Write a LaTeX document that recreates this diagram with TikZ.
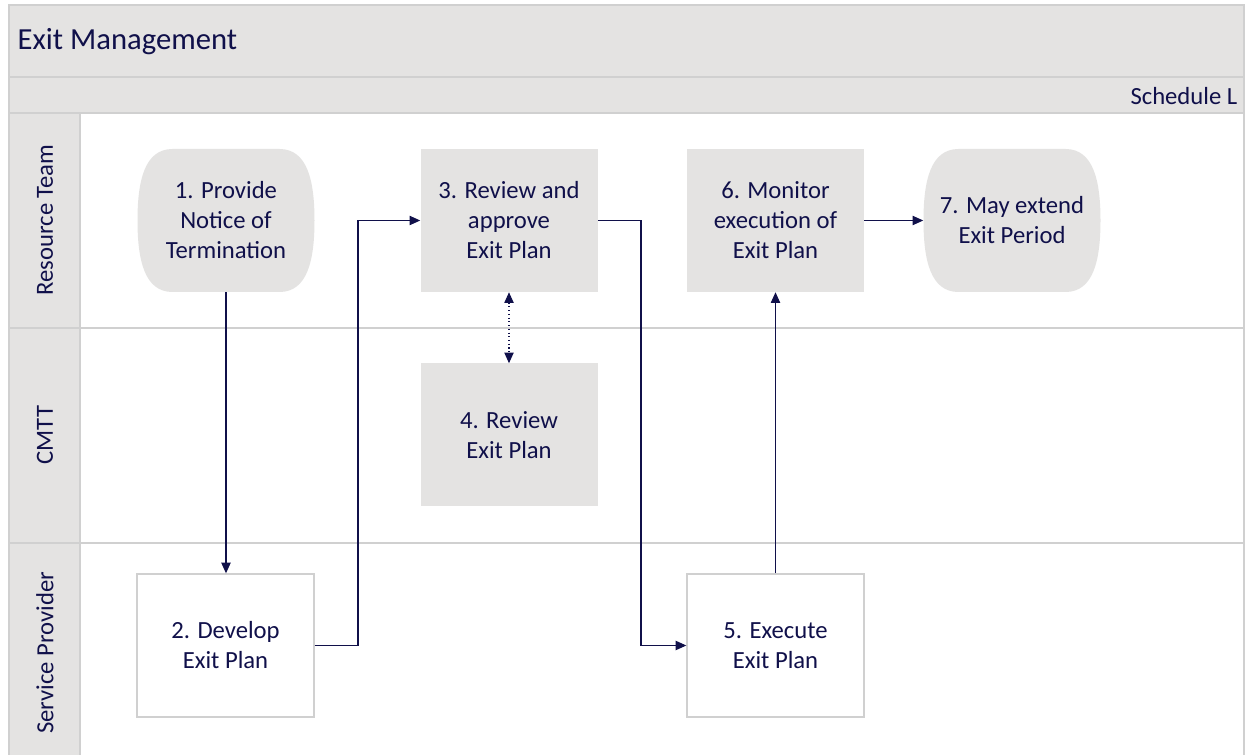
\documentclass[tikz,border=0pt]{standalone}
\usepackage{fontspec}
\setmainfont{Carlito}
\usetikzlibrary{arrows.meta,calc}
\definecolor{ink}{HTML}{10104A}
\definecolor{band}{HTML}{E4E3E2}
\definecolor{rule}{HTML}{D0D0D0}
% bulged terminator outline around a centre coordinate
\newcommand\termshape[1]{%
  \fill[band] ($(#1)+(-88.5,0)$)
    .. controls ($(#1)+(-88.5,-39.5)$) and ($(#1)+(-81.5,-71.5)$) .. ($(#1)+(-53.5,-71.5)$)
    -- ($(#1)+(53.5,-71.5)$)
    .. controls ($(#1)+(81.5,-71.5)$) and ($(#1)+(88.5,-39.5)$) .. ($(#1)+(88.5,0)$)
    .. controls ($(#1)+(88.5,39.5)$) and ($(#1)+(81.5,71.5)$) .. ($(#1)+(53.5,71.5)$)
    -- ($(#1)+(-53.5,71.5)$)
    .. controls ($(#1)+(-81.5,71.5)$) and ($(#1)+(-88.5,39.5)$) .. cycle;}
\begin{document}
\begin{tikzpicture}[x=0.75pt,y=-0.75pt,
  font=\fontsize{18.5}{22.5}\selectfont, text=ink,
  lane/.style={draw=rule,line width=1.3pt,fill=band},
  boxbase/.style={minimum width=132.75pt,minimum height=107.25pt,align=center,inner sep=2pt},
  graybox/.style={boxbase,fill=band},
  whitebox/.style={boxbase,fill=white,draw=rule,line width=1pt},
  roundbox/.style={boxbase},
  lanelabel/.style={rotate=90,anchor=center},
  flow/.style={draw=ink,line width=0.8pt,-{Triangle[length=8pt,width=7pt]}},
  link/.style={draw=ink,line width=0.8pt,dotted,{Triangle[length=8pt,width=7pt]}-{Triangle[length=8pt,width=7pt]}}]
\useasboundingbox (0,0) rectangle (1247,755);
\fill[white] (0,0) rectangle (1247,755);

% header bands
\path[lane] (9,5) rectangle (1244,77);
\path[lane] (9,77) rectangle (1244,113);
\node[anchor=west,font=\fontsize{23}{27}\selectfont] (title) at (13,42) {Exit Management};
\node[anchor=east] (sched) at (1242,96) {Schedule L};

% swimlanes
\path[lane] (9,113) rectangle (80,760);
\draw[rule,line width=1.3pt] (9,328) -- (1244,328);
\draw[rule,line width=1.3pt] (9,543) -- (1244,543);
\draw[rule,line width=1.3pt] (1244,113) -- (1244,760);
\node[lanelabel] (laneA) at (45,220) {Resource Team};
\node[lanelabel] (laneB) at (45,435) {CMTT};
\node[lanelabel] (laneC) at (45,653) {Service Provider};

% steps
\coordinate (c1) at (226,220.5);
\coordinate (c7) at (1012,220.5);
\termshape{c1}
\termshape{c7}
\node[roundbox] (s1) at (c1) {1. Provide\\Notice of\\Termination};
\node[graybox] (s3) at (509,220.5) {3. Review and\\approve\\Exit Plan};
\node[graybox] (s6) at (775.5,220.5) {6. Monitor\\execution of\\Exit Plan};
\node[roundbox] (s7) at (c7) {7. May extend\\Exit Period};
\node[graybox] (s4) at (509,435) {4. Review\\Exit Plan};
\node[whitebox] (s2) at (225.5,645.5) {2. Develop\\Exit Plan};
\node[whitebox] (s5) at (775.5,645.5) {5. Execute\\Exit Plan};

% connectors
\draw[flow] (s1.south) -- (s1.south |- s2.north);
\draw[flow] (s2.east) -- (358,645.5) -- (358,220.5) -- (s3.west);
\draw[flow] (s3.east) -- (641,220.5) -- (641,645.5) -- (s5.west);
\draw[flow] (s5.north) -- (s6.south);
\draw[flow] (s6.east) -- (s7.west);
\draw[link] (s3.south) -- (s4.north);
\end{tikzpicture}
\end{document}
